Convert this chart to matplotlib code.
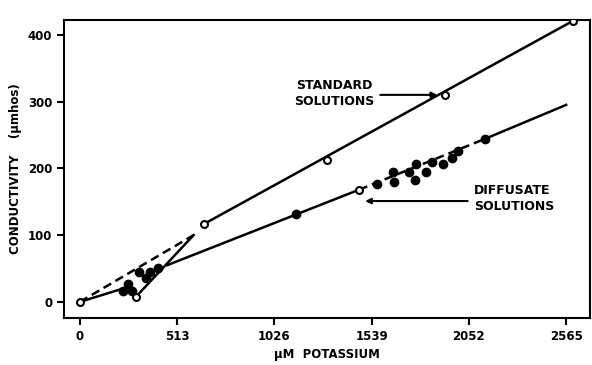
import matplotlib.pyplot as plt

# standard solutions (open circles)
std_x = [0, 657, 1304, 1924, 2602]
std_y = [0, 117, 213, 310, 421]
# odd open circles on the diffusate side
open_x = [297, 1473]
open_y = [8, 168]

# diffusate solutions (filled circles)
dif_x = [228, 254, 276, 313, 350, 371, 413,
         1139, 1569, 1653, 1659, 1738, 1775, 1770, 1828, 1855, 1918, 1961, 1993, 2136]
dif_y = [16, 27, 16, 45, 36, 45, 51,
         131, 176, 194, 179, 194, 206, 183, 195, 210, 206, 215, 226, 244]

xticks = [0, 513, 1026, 1539, 2052, 2565]
yticks = [0, 100, 200, 300, 400]

fig = plt.figure(figsize=(5.92, 3.65), dpi=100)
ax = fig.add_axes([0.108, 0.129, 0.889, 0.816])
lw = 1.8

# standard line: dashed low part, solid above
ax.plot([0, 600], [0, 100], color='black', lw=lw, ls=(0, (3.5, 2)))
ax.plot([657, 2602], [117, 421], color='black', lw=lw)
# low-range lines
ax.plot([0, 228], [0, 20], color='black', lw=lw)
ax.plot([297, 600], [8, 100], color='black', lw=lw)
# diffusate line
ax.plot([461, 1473], [55, 168], color='black', lw=lw)
ax.plot([1473, 2136], [168, 244], color='black', lw=lw, ls=(0, (3.5, 2)))
ax.plot([2136, 2565], [244, 295], color='black', lw=lw)

ax.plot(dif_x, dif_y, 'o', color='black', ms=6, zorder=3)
ax.plot(std_x, std_y, 'o', mfc='white', mec='black', mew=1.5, ms=5, zorder=4)
ax.plot(open_x, open_y, 'o', mfc='white', mec='black', mew=1.5, ms=5, zorder=4)

ax.annotate('', xy=(1900, 310), xytext=(1570, 310),
            arrowprops=dict(arrowstyle='-|>', color='black', lw=1.5, mutation_scale=8))
ax.text(1340, 312, 'STANDARD\nSOLUTIONS', ha='center', va='center',
        fontsize=9, fontweight='bold', linespacing=1.3)
ax.annotate('', xy=(1490, 151), xytext=(2060, 151),
            arrowprops=dict(arrowstyle='-|>', color='black', lw=1.5, mutation_scale=8))
ax.text(2080, 155, 'DIFFUSATE\nSOLUTIONS', ha='left', va='center',
        fontsize=9, fontweight='bold', linespacing=1.3)

ax.set_xlim(-84, 2692)
ax.set_ylim(-24, 422)
ax.set_xticks(xticks)
ax.set_yticks(yticks)
ax.tick_params(direction='out', length=5, width=1.5, labelsize=8.5)
for lab in ax.get_xticklabels() + ax.get_yticklabels():
    lab.set_fontweight('bold')
for s in ax.spines.values():
    s.set_linewidth(1.5)

ax.set_xlabel('\u03bcM  POTASSIUM', fontsize=8.5, fontweight='bold', labelpad=4)
ax.set_ylabel('CONDUCTIVITY    (\u03bcmhos)', fontsize=8.5, fontweight='bold', labelpad=4)

fig.savefig('out.png', dpi=100)
